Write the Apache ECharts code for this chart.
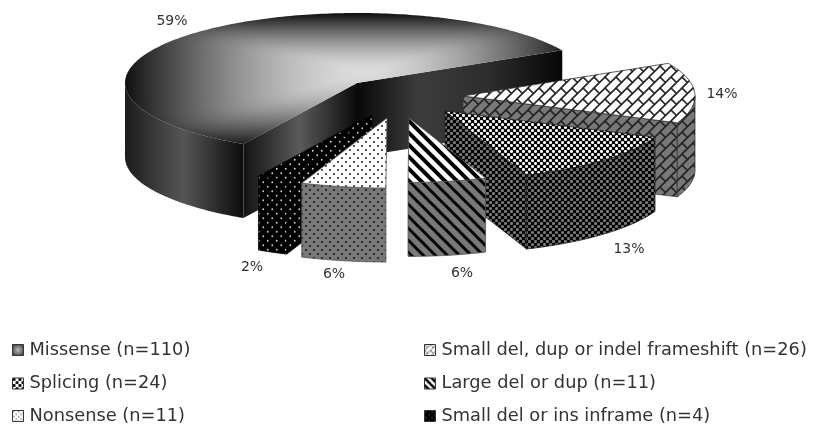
<!DOCTYPE html>
<html>
<head>
<meta charset="utf-8">
<style>html,body{margin:0;padding:0;background:#fff}#chart{width:813px;height:425px}</style>
<script src="https://cdn.jsdelivr.net/npm/echarts@6/dist/echarts.min.js"></script>
</head>
<body>
<div id="chart"></div>
<script>
// Mutation classes and their patient counts, clockwise from the largest slice.
var categories = ['Missense (n=110)', 'Small del, dup or indel frameshift (n=26)', 'Splicing (n=24)',
                  'Large del or dup (n=11)', 'Nonsense (n=11)', 'Small del or ins inframe (n=4)'];
var counts = [110, 26, 24, 11, 11, 4];
var legendLeft = ['Missense (n=110)', 'Splicing (n=24)', 'Nonsense (n=11)'];
var legendRight = ['Small del, dup or indel frameshift (n=26)', 'Large del or dup (n=11)', 'Small del or ins inframe (n=4)'];

// Projection of the tilted pie.
var RX = 232, RY = 70, DEPTH = 74, FIRST_ANGLE = 209.3;
// Exploded apex of every slice, its radial shrink from perspective, and where its percentage sits.
var apex = [[357, 83], [463, 96], [445, 111], [409, 118], [387, 118], [372, 115]];
var shrink = [1, 1, 0.98, 0.92, 1, 1];
var labelAt = [[172, 21], [722, 94], [629, 249], [462, 273], [334, 274], [252, 267]];
// Paint order: back to front.
var paintOrder = [0, 1, 2, 5, 4, 3];
// Top edge of each legend row.
var legendRows = [341, 374.5, 407];

function tile(size, bg, draw) {
  var c = document.createElement('canvas');
  c.width = c.height = size;
  var g = c.getContext('2d');
  g.fillStyle = bg;
  g.fillRect(0, 0, size, size);
  draw(g, size);
  return { image: c, repeat: 'repeat' };
}
function dots(size, bg, ink, r) {
  return tile(size, bg, function (g, s) {
    g.fillStyle = ink;
    [[s / 4, s / 4], [3 * s / 4, 3 * s / 4]].forEach(function (p) {
      g.beginPath(); g.arc(p[0], p[1], r, 0, 7); g.fill();
    });
  });
}
function stripes(size, bg, ink, w) {
  return tile(size, bg, function (g, s) {
    g.strokeStyle = ink; g.lineWidth = w;
    [-s, 0, s].forEach(function (o) {
      g.beginPath(); g.moveTo(o - 2, -2); g.lineTo(o + s + 2, s + 2); g.stroke();
    });
  });
}
function bricks(size, bg, ink, w) {
  return tile(size, bg, function (g, s) {
    g.strokeStyle = ink; g.lineWidth = w;
    [[-1, s + 1, s + 1, -1], [-1, 1, 1, -1], [s - 1, s + 1, s + 1, s - 1], [-1, -1, s / 2, s / 2]].forEach(function (l) {
      g.beginPath(); g.moveTo(l[0], l[1]); g.lineTo(l[2], l[3]); g.stroke();
    });
  });
}

// Top surface of the big slice: a rectangular path gradient, bright near the
// apex and dark towards the bounding box of the pie.
function glowPattern() {
  var W = 813, H = 425, CX = 365, CY = 72;
  var c = document.createElement('canvas');
  c.width = W; c.height = H;
  var g = c.getContext('2d');
  var img = g.createImageData(W, H);
  for (var y = 0; y < 170; y++) {
    for (var x = 100; x < 600; x++) {
      var dx = x < CX ? (CX - x) / 245 : (x - CX) / 215;
      var dy = y < CY ? (CY - y) / 60 : (y - CY) / 76;
      var v = Math.min(1, Math.pow(Math.pow(dx, 8) + Math.pow(dy, 8), 0.125));
      var shade = 10 + 210 * (1 - Math.pow(v, 1.6));
      var o = (y * W + x) * 4;
      img.data[o] = img.data[o + 1] = img.data[o + 2] = shade;
      img.data[o + 3] = 255;
    }
  }
  g.putImageData(img, 0, 0);
  return { image: c, repeat: 'no-repeat' };
}
function band(x0, x1, stops) {
  return { type: 'linear', x: x0, y: 0, x2: x1, y2: 0, global: true,
    colorStops: stops.map(function (s) { return { offset: s[0], color: s[1] }; }) };
}

var GREY = '#787878';
var looks = [
  { top: glowPattern(),
    wall: band(125, 242, [[0, '#1c1c1c'], [0.5, '#555'], [1, '#0e0e0e']]),
    faceIn: band(242, 357, [[0, '#111'], [0.5, '#5a5a5a'], [1, '#0a0a0a']]),
    faceOut: band(357, 562, [[0, '#080808'], [0.3, '#3c3c3c'], [0.65, '#2c2c2c'], [1, '#060606']]),
    line: null },
  { top: bricks(11, '#fff', '#222', 1.6), wall: bricks(11, GREY, '#222', 1.6), line: '#333' },
  { top: dots(6, '#000', '#fff', 1.55), wall: dots(6, '#000', '#777', 1.6), line: '#222' },
  { top: stripes(12, '#fff', '#000', 4), wall: stripes(12, GREY, '#000', 3), line: '#555' },
  { top: dots(8, '#fff', '#222', 1), wall: dots(8, GREY, '#111', 1), line: '#555' },
  { top: dots(9, '#000', '#ddd', 0.9), wall: dots(9, '#000', '#ccc', 0.9), line: '#000' }
];

var total = counts.reduce(function (a, b) { return a + b; }, 0);
var starts = [];
counts.reduce(function (acc, v, i) { starts[i] = acc; return acc + v / total * 360; }, FIRST_ANGLE);

function renderSlice(idx) {
  return function (params, api) {
    var value = api.value(0), span = value / total * 360;
    var a0 = starts[idx], a1 = a0 + span, c = apex[idx], look = looks[idx];
    var kids = [];
    var stroke = look.line, lw = look.line ? 0.8 : 0;
    function rim(deg) {
      var t = deg * Math.PI / 180;
      return [c[0] + shrink[idx] * RX * Math.sin(t), c[1] - shrink[idx] * RY * Math.cos(t)];
    }
    function down(p) { return [p[0], p[1] + DEPTH]; }
    function poly(points, fill) {
      kids.push({ type: 'polygon', shape: { points: points },
        style: { fill: fill, stroke: stroke || undefined, lineWidth: lw, lineJoin: 'round' } });
    }
    var sin0 = Math.sin(a0 * Math.PI / 180), sin1 = Math.sin(a1 * Math.PI / 180);
    // Cut faces that turn towards the viewer.
    if (sin0 < -0.01) poly([c, rim(a0), down(rim(a0)), down(c)], look.faceIn || look.wall);
    if (sin1 > 0.01) poly([c, rim(a1), down(rim(a1)), down(c)], look.faceOut || look.wall);
    // Outer wall: only the near half of the rim.
    var front = [];
    function addNear(d) {
      var m = ((d % 360) + 360) % 360;
      if (m >= 90 && m <= 270) front.push(rim(d));
    }
    for (var d = a0; d < a1; d += 1) addNear(d);
    addNear(a1);
    if (front.length > 1) poly(front.concat(front.slice().reverse().map(down)), look.wall);
    // Top surface.
    var top = [c];
    for (var e = a0; e < a1; e += 1) top.push(rim(e));
    top.push(rim(a1));
    poly(top, look.top);
    // Percentage label.
    kids.push({ type: 'text', style: {
      x: labelAt[idx][0], y: labelAt[idx][1], text: Math.round(value / total * 100) + '%',
      fill: '#333', font: '14px "DejaVu Sans"', align: 'center', verticalAlign: 'middle' } });
    return { type: 'group', children: kids };
  };
}

var series = paintOrder.map(function (idx, order) {
  return { type: 'custom', name: categories[idx], coordinateSystem: 'none', silent: true, z: 2 + order,
    renderItem: renderSlice(idx), data: [[counts[idx]]], animation: false };
});

// Small legend swatches.
var swatch = {};
swatch[categories[0]] = { type: 'radial', x: 0.5, y: 0.5, r: 0.7, colorStops: [{ offset: 0, color: '#bbb' }, { offset: 1, color: '#222' }] };
swatch[categories[1]] = bricks(6, '#fff', '#333', 0.8);
swatch[categories[2]] = dots(6, '#fff', '#000', 1.6);
swatch[categories[3]] = stripes(7, '#fff', '#000', 2.4);
swatch[categories[4]] = dots(5, '#fff', '#555', 0.8);
swatch[categories[5]] = dots(6, '#000', '#555', 0.7);

// One legend per row, so the rows can sit tight against the bottom of the page.
function legendRow(name, left, top) {
  return { orient: 'vertical', left: left, top: top, padding: 0, itemWidth: 11, itemHeight: 11,
    icon: 'rect', selectedMode: false,
    textStyle: { color: '#333', fontSize: 17.8, lineHeight: 16, padding: [0, 0, 0, 1],
      fontFamily: '"DejaVu Sans"' },
    data: [{ name: name, icon: 'rect', itemStyle: { color: swatch[name], borderColor: '#333', borderWidth: 1 } }] };
}
var legends = legendLeft.map(function (n, i) { return legendRow(n, 12, legendRows[i]); })
  .concat(legendRight.map(function (n, i) { return legendRow(n, 424, legendRows[i]); }));

var chart = echarts.init(document.getElementById('chart'), null, { renderer: 'canvas' });
chart.setOption({
  animation: false,
  backgroundColor: '#fff',
  legend: legends,
  series: series
});
</script>
</body>
</html>
